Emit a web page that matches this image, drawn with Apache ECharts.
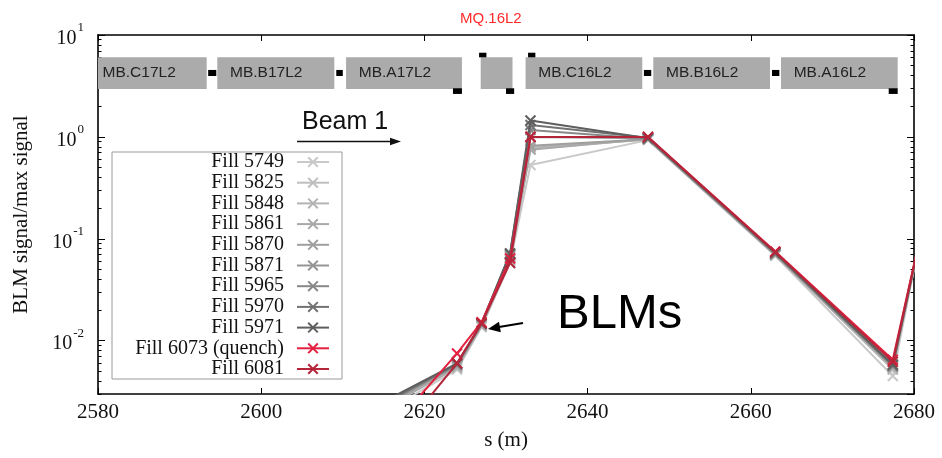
<!DOCTYPE html>
<html>
<head>
<meta charset="utf-8">
<title>BLM signal around MQ.16L2</title>
<script src="https://cdn.jsdelivr.net/npm/echarts@6/dist/echarts.min.js"></script>
<style>
  html, body { margin: 0; padding: 0; background: #fff; }
  #chart { width: 942px; height: 458px; }
</style>
</head>
<body>
<div id="chart"></div>
<script>
// BLM longitudinal positions (m)
const blmPos = [2609.6, 2624.0, 2627.0, 2630.5, 2633.0, 2647.4, 2663.0, 2677.4, 2680.5];

// Fill names and normalised BLM signals at each BLM position
const fillNames = [
  'Fill 5749', 'Fill 5825', 'Fill 5848', 'Fill 5861', 'Fill 5870', 'Fill 5871',
  'Fill 5965', 'Fill 5970', 'Fill 5971', 'Fill 6073 (quench)', 'Fill 6081'
];
const fill5749 = [0.0011, 0.0052, 0.0136, 0.058, 0.53, 0.93, 0.068, 0.0045, 0.080];
const fill5825 = [0.0012, 0.0055, 0.0140, 0.062, 0.76, 0.95, 0.070, 0.0052, 0.081];
const fill5848 = [0.0013, 0.0054, 0.0138, 0.060, 0.79, 0.94, 0.069, 0.0053, 0.082];
const fill5861 = [0.0012, 0.0056, 0.0142, 0.064, 0.75, 0.96, 0.071, 0.0055, 0.082];
const fill5870 = [0.0014, 0.0057, 0.0144, 0.066, 0.82, 0.95, 0.070, 0.0056, 0.083];
const fill5871 = [0.0013, 0.0058, 0.0145, 0.068, 1.00, 0.97, 0.072, 0.0057, 0.083];
const fill5965 = [0.0015, 0.0058, 0.0146, 0.070, 1.17, 0.96, 0.071, 0.0056, 0.082];
const fill5970 = [0.0014, 0.0059, 0.0147, 0.071, 1.31, 0.98, 0.072, 0.0058, 0.083];
const fill5971 = [0.0015, 0.0060, 0.0148, 0.072, 1.45, 0.97, 0.073, 0.0058, 0.084];
const fill6073 = [0.00036, 0.0075, 0.0152, 0.064, 1.00, 1.00, 0.075, 0.0065, 0.085];
const fill6081 = [0.00023, 0.0060, 0.0148, 0.058, 1.00, 1.00, 0.074, 0.0062, 0.083];
const fillValues = [fill5749, fill5825, fill5848, fill5861, fill5870, fill5871,
                    fill5965, fill5970, fill5971, fill6073, fill6081];
const fillColors = ['#c9c9c9', '#bebebe', '#b4b4b4', '#a9a9a9', '#9f9f9f', '#959595',
                    '#888888', '#727272', '#5e5e5e', '#e3203f', '#b5253a'];

// Axis ticks
const xTicks = [2580, 2600, 2620, 2640, 2660, 2680];
const yMin = 0.003, yMax = 10;
const yDecades = [0.01, 0.1, 1, 10];
const yMinorTicks = [0.003, 0.004, 0.005, 0.006, 0.007, 0.008, 0.009,
  0.02, 0.03, 0.04, 0.05, 0.06, 0.07, 0.08, 0.09,
  0.2, 0.3, 0.4, 0.5, 0.6, 0.7, 0.8, 0.9,
  2, 3, 4, 5, 6, 7, 8, 9];

// Magnet layout along s
const magnetNames = ['MB.C17L2', 'MB.B17L2', 'MB.A17L2', '', 'MB.C16L2', 'MB.B16L2', 'MB.A16L2'];
const magnetStart = [2579.0, 2594.62, 2610.4, 2626.9, 2632.4, 2648.05, 2663.7];
const magnetEnd   = [2593.32, 2608.96, 2624.6, 2630.8, 2646.7, 2662.35, 2678.0];
const connStart = [2593.5, 2609.2, 2623.5, 2626.7, 2630.0, 2632.7, 2646.9, 2662.6, 2676.9];
const connEnd   = [2594.5, 2610.0, 2624.6, 2627.6, 2631.0, 2633.6, 2647.8, 2663.5, 2678.0];
const connLevel = ['mid', 'mid', 'low', 'high', 'low', 'high', 'mid', 'mid', 'low'];
const bands = { box: [2.955, 6.04], mid: [3.96, 4.54], high: [6.04, 6.7], low: [2.64, 3.0] };

const SERIF = 'Liberation Serif';
const SANS = 'Liberation Sans';

// rows for the layout series: [s0, yLow, s1, yHigh, kind(0 magnet / 1 connector), index]
const layoutRows = [];
magnetStart.forEach((s, i) => layoutRows.push([s, bands.box[0], magnetEnd[i], bands.box[1], 0, i]));
connStart.forEach((s, i) => {
  const b = bands[connLevel[i]];
  layoutRows.push([s, b[0], connEnd[i], b[1], 1, i]);
});

function renderLayout(params, api) {
  const p0 = api.coord([api.value(0), api.value(3)]);
  const p1 = api.coord([api.value(2), api.value(1)]);
  const cs = params.coordSys;
  const rect = echarts.graphic.clipRectByRect(
    { x: p0[0], y: p0[1], width: p1[0] - p0[0], height: p1[1] - p0[1] },
    { x: cs.x, y: cs.y, width: cs.width, height: cs.height });
  if (!rect) return;
  const kind = api.value(4);
  const idx = api.value(5);
  const children = [{
    type: 'rect', shape: rect,
    style: { fill: kind === 0 ? '#ababab' : '#000' }
  }];
  if (kind === 0 && magnetNames[idx]) {
    children.push({
      type: 'text',
      style: {
        text: magnetNames[idx], x: p0[0] + 12.7, y: (p0[1] + p1[1]) / 2,
        fill: '#222', font: '15.5px ' + SANS, align: 'left', verticalAlign: 'middle'
      }
    });
  }
  return { type: 'group', children };
}

const lineSeries = fillNames.map((name, k) => ({
  name,
  type: 'line',
  xAxisIndex: 0,
  yAxisIndex: 0,
  data: blmPos.map((s, i) => [s, fillValues[k][i]]),
  symbol: 'path://M0,0L10,10M10,0L0,10',
  symbolSize: 10,
  showSymbol: true,
  clip: true,
  color: fillColors[k],
  lineStyle: { color: fillColors[k], width: 2 },
  itemStyle: { color: fillColors[k], borderColor: fillColors[k], borderWidth: 2 },
  emphasis: { disabled: true },
  z: 3 + k
}));

function decadeLabel(v) {
  const e = Math.log10(v);
  if (Math.abs(e - Math.round(e)) > 1e-6) return '';
  return '{b|10}{s|' + Math.round(e) + '}';
}

const minorAxis = (position) => ({
  type: 'value',
  position,
  min: Math.log10(yMin),
  max: Math.log10(yMax),
  axisLine: { show: false },
  axisLabel: { show: false },
  splitLine: { show: false },
  axisTick: {
    show: true, inside: true, length: 3.5,
    lineStyle: { color: '#000', width: 1 },
    customValues: yMinorTicks.map(v => Math.log10(v))
  }
});

const chart = echarts.init(document.getElementById('chart'), null, { renderer: 'canvas' });
chart.setOption({
  animation: false,
  backgroundColor: '#fff',
  grid: { left: 98, right: 28, top: 35, bottom: 64, outerBoundsMode: 'none' },
  legend: {
    data: fillNames,
    orient: 'vertical',
    align: 'right',
    left: 112,
    top: 152,
    padding: [0, 12, 0, 10],
    itemGap: 0.7,
    itemWidth: 32,
    itemHeight: 12,
    selectedMode: false,
    borderColor: '#9a9a9a',
    borderWidth: 1,
    backgroundColor: '#fff',
    textStyle: {
      fontFamily: SERIF, fontSize: 20, color: '#111',
      width: 162, lineHeight: 18, padding: [0, 8, 0, 0]
    }
  },
  xAxis: [{
    type: 'value',
    position: 'bottom',
    min: xTicks[0],
    max: xTicks[xTicks.length - 1],
    interval: 20,
    name: 's (m)',
    nameLocation: 'middle',
    nameGap: 36,
    nameTextStyle: { fontFamily: SERIF, fontSize: 21, color: '#111' },
    axisLine: { onZero: false, lineStyle: { color: '#000', width: 1.6 } },
    axisTick: { inside: true, length: 6, lineStyle: { color: '#000', width: 1 } },
    axisLabel: {
      margin: 8, fontFamily: SERIF, fontSize: 21, color: '#111',
      formatter: v => (xTicks.indexOf(v) >= 0 ? String(v) : '')
    },
    splitLine: { show: false }
  }, {
    type: 'value',
    position: 'top',
    min: xTicks[0],
    max: xTicks[xTicks.length - 1],
    interval: 20,
    axisLine: { onZero: false, lineStyle: { color: '#000', width: 1.6 } },
    axisTick: { inside: true, length: 6, lineStyle: { color: '#000', width: 1 } },
    axisLabel: { show: false },
    splitLine: { show: false }
  }],
  yAxis: [{
    type: 'log',
    logBase: 10,
    position: 'left',
    min: yMin,
    max: yMax,
    name: 'BLM signal/max signal',
    nameLocation: 'middle',
    nameGap: 66,
    nameTextStyle: { fontFamily: SERIF, fontSize: 21, color: '#111' },
    axisLine: { onZero: false, lineStyle: { color: '#000', width: 1.6 } },
    axisTick: { inside: true, length: 7, lineStyle: { color: '#000', width: 1 } },
    axisLabel: {
      margin: 14,
      formatter: decadeLabel,
      showMinLabel: false,
      rich: {
        b: { fontFamily: SERIF, fontSize: 20, color: '#111', lineHeight: 20, verticalAlign: 'bottom' },
        s: { fontFamily: SERIF, fontSize: 13, color: '#111', verticalAlign: 'bottom', padding: [0, 0, 14, 1] }
      }
    },
    splitLine: { show: false }
  }, {
    type: 'log',
    logBase: 10,
    position: 'right',
    min: yMin,
    max: yMax,
    axisLine: { onZero: false, lineStyle: { color: '#000', width: 1.6 } },
    axisTick: { inside: true, length: 7, lineStyle: { color: '#000', width: 1 } },
    axisLabel: { show: false },
    splitLine: { show: false }
  }, minorAxis('left'), minorAxis('right')],
  graphic: [
    { type: 'text', left: 460, top: 11,
      style: { text: 'MQ.16L2', fill: '#ff2a2a', font: '15px ' + SANS } },
    { type: 'text', left: 302, top: 110,
      style: { text: 'Beam 1', fill: '#111', font: '25px ' + SANS } },
    { type: 'line', shape: { x1: 297, y1: 141.5, x2: 393, y2: 141.5 },
      style: { stroke: '#111', lineWidth: 1.5 } },
    { type: 'polygon', shape: { points: [[401, 141.5], [390, 137.8], [390, 145.2]] },
      style: { fill: '#111' } },
    { type: 'text', left: 557, top: 290,
      style: { text: 'BLMs', fill: '#000', font: '49px ' + SANS } },
    { type: 'line', shape: { x1: 523, y1: 323, x2: 499, y2: 327 },
      style: { stroke: '#000', lineWidth: 2.2 } },
    { type: 'polygon', shape: { points: [[488, 329], [500.8, 332.2], [499, 321.8]] },
      style: { fill: '#000' } }
  ],
  series: [{
    type: 'custom',
    name: 'layout',
    xAxisIndex: 0,
    yAxisIndex: 0,
    silent: true,
    renderItem: renderLayout,
    encode: { x: [0, 2], y: [1, 3] },
    data: layoutRows,
    z: 1
  }].concat(lineSeries)
});
</script>
</body>
</html>
